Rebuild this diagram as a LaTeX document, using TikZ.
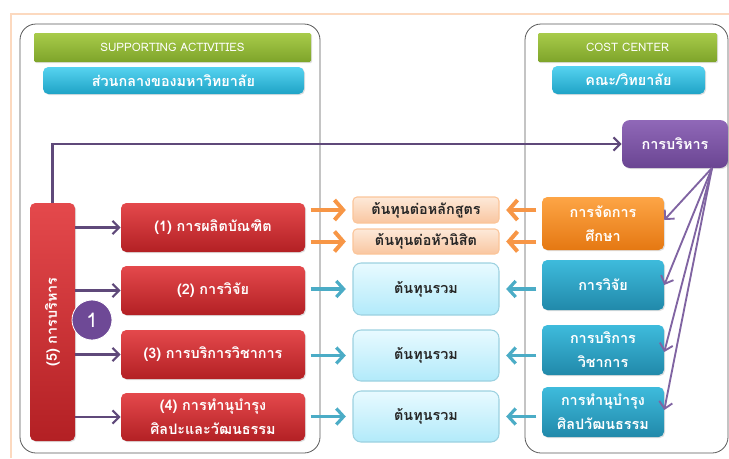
\documentclass[tikz,border=0pt]{standalone}
\usepackage{fontspec}
\newfontfamily\thai[Script=Thai]{Loma}
\usetikzlibrary{arrows.meta,shadows}
\newcommand\pxl{0.75pt}
\definecolor{grnT}{HTML}{A8CB4A}\definecolor{grnB}{HTML}{7EA42A}
\definecolor{cyaT}{HTML}{56D3F0}\definecolor{cyaB}{HTML}{1FA3C6}
\definecolor{purT}{HTML}{9068B8}\definecolor{purB}{HTML}{6A4592}
\definecolor{redT}{HTML}{E4494C}\definecolor{redB}{HTML}{B32024}
\definecolor{oraT}{HTML}{FDA546}\definecolor{oraB}{HTML}{E57812}
\definecolor{bluT}{HTML}{3EBBDC}\definecolor{bluB}{HTML}{2189AA}
\definecolor{pchT}{HTML}{FDE9D9}\definecolor{pchB}{HTML}{F9C6A0}
\definecolor{lbT}{HTML}{E8FAFF}\definecolor{lbB}{HTML}{B2EAFA}
\definecolor{arO}{HTML}{F79646}\definecolor{arB}{HTML}{4BACC6}
\definecolor{arP}{HTML}{5F497A}\definecolor{fanP}{HTML}{8064A2}
\definecolor{frame}{HTML}{FCD9BF}
\begin{document}
\begin{tikzpicture}[x=\pxl,y=-\pxl,font=\thai\bfseries\fontsize{10.8}{18}\selectfont,
 bx/.style n args={2}{minimum width=#1*\pxl,minimum height=#2*\pxl},
 box/.style={rounded corners=4pt,align=center,inner sep=1pt,text=white,drop shadow={opacity=0.25,shadow xshift=0.8pt,shadow yshift=-0.8pt}},
 hdrg/.style={box,top color=grnT,bottom color=grnB,rounded corners=1pt,font=\thai\fontsize{8.7}{10}\selectfont},
 hdrc/.style={box,top color=cyaT,bottom color=cyaB},
 purbox/.style={box,top color=purT,bottom color=purB,rounded corners=6pt},
 redbox/.style={box,top color=redT,bottom color=redB},
 orabox/.style={box,top color=oraT,bottom color=oraB},
 blubox/.style={box,top color=bluT,bottom color=bluB},
 cost/.style={rounded corners=3pt,align=center,draw=arO!55,line width=0.8pt,top color=pchT,bottom color=pchB,text=black!85,inner sep=1pt},
 total/.style={rounded corners=6pt,align=center,draw=arB!55,line width=0.8pt,top color=lbT,bottom color=lbB,text=black!85,inner sep=1pt},
 oarr/.style={draw=arO,line width=3pt,-{Straight Barb[length=6.5pt,width=15pt]},shorten <=4pt,shorten >=5pt},
 barr/.style={draw=arB,line width=2.4pt,-{Straight Barb[length=5.5pt,width=12pt]},shorten <=4pt,shorten >=5pt},
 parr/.style={draw=arP,line width=1.7pt,-{Straight Barb[length=5pt,width=10pt]}},
 fan/.style={draw=fanP,line width=1.4pt,-{Straight Barb[length=5pt,width=10pt]}}]
\useasboundingbox (0,0) rectangle (729,458);
\draw[frame,line width=1.5pt](11,458)--(11,14)--(729,14);
\draw[gray!70!black,line width=0.6pt,rounded corners=12pt](20,24)rectangle(320,453);
\draw[gray!70!black,line width=0.6pt,rounded corners=12pt](525,24)rectangle(728,453);
\node[hdrg,bx={277}{29}](sa) at (172.5,47.5){SUPPORTING ACTIVITIES};
\node[hdrc,bx={261}{27}](uni) at (173.5,80.5){ส่วนกลางของมหาวิทยาลัย};
\node[hdrg,bx={179}{29}](cc) at (627.5,47.5){COST CENTER};
\node[hdrc,bx={153}{28}](fac) at (628.5,80){คณะ/วิทยาลัย};
\node[purbox,bx={106}{48}](bri) at (675,144){การบริหาร};
\node[redbox,bx={45}{238}](five) at (52.5,322){};
\node[rotate=90,text=white](fivet) at (five){(5) การบริหาร};
\node[redbox,bx={184}{49}](r1) at (213,227.5){(1) การผลิตบัณฑิต};
\node[redbox,bx={184}{49}](r2) at (213,290.5){(2) การวิจัย};
\node[redbox,bx={184}{49}](r3) at (213,354.5){(3) การบริการวิชาการ};
\node[redbox,bx={184}{48}](r4) at (213,417){(4) การทำนุบำรุง\\ศิลปะและวัฒนธรรม};
\node[circle,fill=purB!90!purT,draw=white,line width=0.6pt,minimum size=40*\pxl,text=white,font=\thai\fontsize{15}{15}\selectfont](one) at (92,320){1};
\node[cost,bx={146}{26}](c1) at (426,210){ต้นทุนต่อหลักสูตร};
\node[cost,bx={146}{25}](c2) at (426,241.5){ต้นทุนต่อหัวนิสิต};
\node[total,bx={146}{52}](t2) at (426,289){ต้นทุนรวม};
\node[total,bx={146}{51}](t3) at (426,355.5){ต้นทุนรวม};
\node[total,bx={146}{51}](t4) at (426,416.5){ต้นทุนรวม};
\node[orabox,bx={122}{53}](e1) at (603,223.5){การจัดการ\\ศึกษา};
\node[blubox,bx={122}{50}](e2) at (603,285){การวิจัย};
\node[blubox,bx={122}{50}](e3) at (603,350){การบริการ\\วิชาการ};
\node[blubox,bx={122}{50}](e4) at (603,412){การทำนุบำรุง\\ศิลปวัฒนธรรม};
\coordinate(fanO) at (712,168);
\draw[parr](five.north)|-(bri.west);
\foreach \r in {r1,r2,r3,r4}{\draw[parr](five.east|-\r)--(\r.west);}
\foreach \c in {c1,c2}{\draw[oarr](r1.east|-\c)--(\c.west);\draw[oarr](e1.west|-\c)--(\c.east);}
\foreach \n in {2,3,4}{\draw[barr](r\n.east|-t\n)--(t\n.west);\draw[barr](e\n.west|-t\n)--(t\n.east);}
\foreach \e/\y in {e1/220,e2/285,e3/352,e4/410}{\draw[fan](fanO)--(\e.east|-0,\y);}
\end{tikzpicture}
\end{document}
